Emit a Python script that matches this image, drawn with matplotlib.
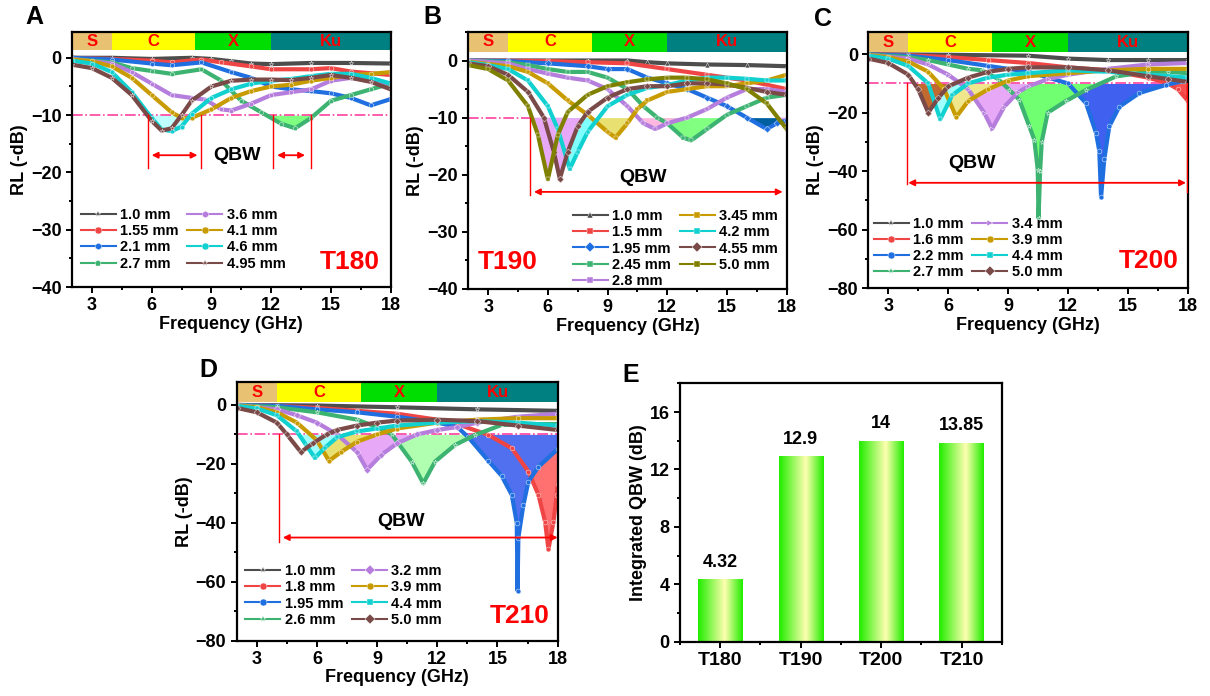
import numpy as np
import matplotlib
matplotlib.use("Agg")
import matplotlib.pyplot as plt
from matplotlib.colors import LinearSegmentedColormap
from matplotlib.ticker import MultipleLocator

plt.rcParams['font.family'] = ['Liberation Sans', 'DejaVu Sans']
plt.rcParams['font.weight'] = 'bold'
plt.rcParams['axes.labelweight'] = 'bold'

# ---------------- data ----------------
BANDS = ['S', 'C', 'X', 'Ku']
BAND_EDGES = [2, 4, 8.2, 12, 18]
BAND_COLORS = ['#e8c272', '#ffff00', '#00dd00', '#008080']

# panel A, T180
A_LABELS = ['1.0 mm', '1.55 mm', '2.1 mm', '2.7 mm', '3.6 mm', '4.1 mm', '4.6 mm', '4.95 mm']
A_FREQ = [
    [2, 4, 6, 8, 9, 10, 11, 12, 14, 16, 18],
    [2, 4, 6, 7, 8.5, 9.5, 11, 12, 14, 15, 16, 18],
    [2, 4, 6, 7, 8.5, 10, 11, 12, 13, 14, 15, 16, 17, 18],
    [2, 4, 5, 6, 7, 8.5, 9.5, 10.5, 11.5, 12.5, 13.2, 14, 15, 16, 17, 18],
    [2, 4, 5, 6, 7, 8, 8.7, 9.5, 10, 11, 12, 13, 14, 15, 16, 17, 18],
    [2, 3, 4, 5, 6, 7, 7.5, 8, 9, 10, 11, 12, 13, 14, 15, 16, 17, 18],
    [2, 3, 4, 5, 6, 6.5, 7, 7.5, 8, 9, 10, 11, 12, 13, 14, 15, 16, 17, 18],
    [2, 3, 4, 5, 6, 6.5, 7, 7.5, 8, 9, 10, 11, 12, 13, 14, 15, 16, 17, 18],
]
A_RL = [
    [0, 0, -0.2, 0, -0.2, -0.6, -1.0, -1.1, -0.9, -0.9, -1.0],
    [0, -0.2, -0.5, -0.8, -0.3, -0.8, -1.5, -2.0, -2.0, -1.8, -2.4, -3.0],
    [0, -0.3, -1.0, -1.3, -0.8, -2.5, -3.5, -5.0, -5.5, -5.8, -6.2, -7.0, -8.3, -7.2],
    [-0.2, -0.8, -1.8, -2.3, -2.8, -2.0, -4.0, -7.5, -9.5, -11.5, -12.3, -10.5, -7.5, -6.5, -5.5, -4.5],
    [-0.2, -1, -2.5, -4.5, -6.5, -7, -7.3, -9, -9.2, -8, -6.5, -6, -5.5, -4, -3.5, -4, -4.5],
    [-0.3, -0.6, -1.5, -3.5, -6.5, -9.5, -10.5, -10.5, -9, -7, -5.8, -5, -4.7, -4, -3.5, -3, -2.8, -2.5],
    [-0.5, -1, -2.5, -6, -10.5, -12.5, -12.8, -12, -9.8, -7, -5.5, -4.5, -4, -3.7, -3.2, -2.8, -2.8, -3.5, -4.5],
    [-1.2, -1.8, -3.5, -6.5, -11, -12.7, -12.3, -10, -7.5, -5, -4, -3.8, -3.8, -3.9, -3.5, -3, -3.5, -4.2, -5.5],
]

# panel B, T190
B_LABELS = ['1.0 mm', '1.5 mm', '1.95 mm', '2.45 mm', '2.8 mm', '3.45 mm', '4.2 mm', '4.55 mm', '5.0 mm']
B_FREQ = [
    [2, 8, 10, 11, 12, 14, 16, 18],
    [2, 6, 8, 10, 12, 14, 16, 18],
    [2, 4, 6, 8, 9, 10, 11, 12, 13, 14, 15, 16, 17, 17.5, 18],
    [2, 4, 5, 6, 7, 8, 9, 10, 10.8, 11.5, 12, 12.8, 13.2, 14, 15, 16, 17, 18],
    [2, 4, 5, 6, 7, 8, 9, 10, 10.8, 11.4, 12, 13, 14, 15, 16, 17, 18],
    [2, 4, 5, 6, 7, 8, 9, 9.4, 10, 10.5, 11, 12, 13, 14, 15, 16, 17, 18],
    [2, 3, 4, 5, 6, 6.5, 7.1, 7.5, 8, 9, 10, 11, 12, 13, 14, 15, 16, 17, 18],
    [2, 3, 4, 5, 5.8, 6.3, 6.6, 7, 7.5, 8, 9, 10, 11, 12, 13, 14, 15, 16, 17, 18],
    [2, 3, 4, 5, 5.5, 6, 6.5, 7, 8, 9, 10, 11, 12, 13, 14, 15, 16, 17, 18],
]
B_RL = [
    [0, 0, 0, -0.3, -0.5, -0.7, -0.8, -1],
    [0, -0.1, -0.3, -0.5, -1.5, -2.5, -3.5, -5],
    [0, -0.1, -0.5, -1, -1.5, -1.5, -3, -4, -5, -6.5, -8, -10, -12, -11, -10.5],
    [0, -0.3, -0.8, -1.5, -2, -2, -3, -5, -8, -10, -11, -13.5, -14, -12, -9.5, -8, -6.5, -6],
    [0, -0.5, -1.5, -2.3, -3, -3.5, -5, -8, -11, -12, -11, -10, -8.5, -6.5, -5, -5, -5.5],
    [-0.2, -1, -2, -4, -7, -9.5, -12.5, -13.5, -11, -8.5, -7, -5.5, -5, -4.5, -4.5, -4, -3.5, -2.5],
    [-0.3, -0.8, -1.5, -3.5, -8, -12, -19, -16, -12.5, -8, -6, -4.8, -4.3, -3.5, -3, -3, -3.2, -3.5, -3.5],
    [-0.5, -1, -2.5, -5.5, -10, -16, -20.7, -16, -11.5, -9, -6.5, -5, -4.5, -4.5, -4, -4, -4.2, -4.8, -5.5, -6],
    [-0.8, -1.5, -3.5, -8, -13, -20.8, -13, -9, -6, -4.5, -3.8, -3.3, -3, -3, -3.3, -4, -5, -7.5, -12],
]

# panel C, T200
C_LABELS = ['1.0 mm', '1.6 mm', '2.2 mm', '2.7 mm', '3.4 mm', '3.9 mm', '4.4 mm', '5.0 mm']
C_FREQ = [
    [2, 6, 10, 12, 14, 16, 18],
    [2, 4, 6, 8, 10, 12, 14, 16, 17, 17.5, 18],
    [2, 4, 6, 8, 10, 11, 12, 12.9, 13.4, 13.56, 13.65, 13.81, 14.06, 14.56, 15.56, 16.9, 17.7, 18],
    [2, 4, 5, 6, 7, 7.7, 8.5, 9.06, 9.56, 10.06, 10.31, 10.48, 10.52, 10.6, 10.68, 10.98,
     11.9, 12.9, 14.4, 16, 17, 18],
    [2, 4, 5, 6, 7, 7.8, 8.2, 8.8, 9.5, 10, 11, 12, 14, 16, 18],
    [2, 3, 4, 5, 5.8, 6.4, 7, 8, 9, 10, 12, 14, 16, 18],
    [2, 3, 4, 5, 5.6, 6.2, 7, 8, 9, 10, 12, 14, 16, 18],
    [2, 3, 4, 4.5, 5, 5.5, 6, 7, 8, 9, 10, 12, 14, 16, 17, 18],
]
C_RL = [
    [0, -0.2, -0.5, -1.5, -2, -2, -2],
    [0, -0.3, -1, -2, -3, -4.5, -5.5, -8, -10, -12, -16],
    [0, -0.5, -2, -4, -6, -8, -10, -16.8, -27, -33, -49, -36, -24.7, -18, -13.3, -10.5, -9.3, -9],
    [-0.1, -1, -2, -3.5, -5, -5.5, -8.5, -12.2, -15.6, -24.7, -29.3, -39.5, -56, -40, -30, -20,
     -16, -12.2, -7.6, -6, -6, -6.5],
    [-0.2, -1.5, -3.5, -7, -12, -20, -25.5, -18, -13, -11, -8.5, -7, -5, -3.5, -3],
    [-0.3, -1, -2.5, -6, -12, -21.5, -16, -12, -9, -7.5, -6.5, -5.5, -5, -5],
    [-0.5, -1.5, -4, -10, -22.3, -14, -10, -8, -7, -6.5, -5.5, -6, -7, -8],
    [-1.5, -3, -7, -12, -20, -15, -11, -8, -6, -5, -4.5, -4.5, -5.5, -7.5, -8.5, -9.5],
]

# panel D, T210
D_LABELS = ['1.0 mm', '1.8 mm', '1.95 mm', '2.6 mm', '3.2 mm', '3.9 mm', '4.4 mm', '5.0 mm']
D_FREQ = [
    [2, 6, 10, 14, 18],
    [2, 4, 6, 8, 10, 12, 13, 14.55, 15.71, 16.54, 17.04, 17.37, 17.54, 17.79, 17.95, 18],
    [2, 4, 6, 8, 10, 12, 13, 13.55, 14.55, 15.2, 15.71, 15.96, 16.0, 16.04, 16.29, 16.54, 17.04, 18],
    [2, 4, 6, 8, 9, 9.73, 10.72, 11.3, 11.89, 12.88, 13.88, 15.2, 16.5, 18],
    [2, 4, 5, 6, 7, 8, 8.5, 9.2, 10, 11, 12, 13, 14, 16, 18],
    [2, 3, 4, 5, 6, 6.6, 7.2, 8, 9, 10, 12, 14, 16, 18],
    [2, 3, 4, 5, 5.5, 5.9, 6.4, 7, 8, 9, 10, 12, 14, 16, 18],
    [2, 3, 4, 4.5, 5.2, 5.8, 6.5, 7, 8, 9, 10, 12, 14, 16, 18],
]
D_RL = [
    [0, -0.2, -0.8, -1.5, -2],
    [0, -0.3, -1, -2, -3, -5, -6.5, -10.2, -14.7, -22.6, -30.5, -39.6, -49, -39.6, -30.5, -27],
    [0, -0.3, -1.5, -2.5, -4, -6, -7.5, -11, -19, -24, -30.5, -40, -63, -45, -34, -26, -21, -15],
    [0, -0.8, -2.5, -5, -7.5, -10, -19.2, -26.6, -19.2, -13.6, -10.2, -6.8, -6.5, -6.5],
    [0, -1.5, -3.5, -6, -10, -16, -22, -17, -13, -10, -8.5, -7.5, -6, -4, -3],
    [-0.2, -0.8, -2.5, -6, -12, -19, -16, -12.5, -10, -8, -6, -5, -4.5, -4.5],
    [-0.3, -1.2, -3.5, -9, -14, -18, -14.5, -11, -9, -8, -7, -6, -5.5, -6, -7],
    [-1, -2.5, -6, -10, -16, -13, -10, -8.5, -7, -6, -5.3, -5, -5.5, -7, -8.5],
]

# panel E
E_SAMPLES = ['T180', 'T190', 'T200', 'T210']
E_QBW = [4.32, 12.9, 14, 13.85]

# ---------------- styles ----------------
GRAY, RED, BLUE, GREEN = '#4d4d4d', '#f04545', '#1f6fe0', '#3cb371'
PURPLE, GOLD, CYAN, BROWN, OLIVE = '#b57edc', '#c89b00', '#10d0d0', '#7a4a48', '#808000'
PINK = '#ff40a0'

A_COLORS = [GRAY, RED, BLUE, GREEN, PURPLE, GOLD, CYAN, BROWN]
A_MARK = ['*', 'o', 'h', 'p', 'h', 'o', 'o', '*']
A_FILL = [None, None, None, '#80ff80', None, None, '#c0ffff', '#c0ffff']

B_COLORS = [GRAY, RED, BLUE, GREEN, PURPLE, GOLD, CYAN, BROWN, OLIVE]
B_MARK = ['^', 's', 'D', 's', 's', 's', 's', 'D', 's']
B_FILL = [None, None, '#005f9e', '#80ff80', '#ffb8e0', '#e8e070', '#80ffff', '#e8a8f8', '#e8a8f8']

C_COLORS = [GRAY, RED, BLUE, GREEN, PURPLE, GOLD, CYAN, BROWN]
C_MARK = ['*', 'o', 'o', '*', '>', 'o', 's', 'D']
C_FILL = [None, '#ff5050', '#4060f0', '#70ff70', '#e8a8f8', '#f0e68c', '#a0ffff', '#c06a30']

D_COLORS = [GRAY, RED, BLUE, GREEN, PURPLE, GOLD, CYAN, BROWN]
D_MARK = ['*', 'o', 'o', '*', 'D', 'o', 's', 'D']
D_FILL = [None, '#ff7070', '#5070f0', '#b0ffb0', '#e8a8f8', '#e8e070', '#a0ffff', None]


def rl_panel(ax, freqs, rls, labels, colors, marks, fills, ylim, ystep, band_lo):
    ax.set_xlim(2, 18)
    ax.set_ylim(*ylim)
    # frequency bands on top
    for i, b in enumerate(BANDS):
        x0, x1 = BAND_EDGES[i], BAND_EDGES[i + 1]
        ax.fill_between([x0, x1], band_lo, ylim[1], color=BAND_COLORS[i], lw=0, zorder=0.5)
        ax.text((x0 + x1) / 2, (band_lo + ylim[1]) / 2, b, color='red', ha='center',
                va='center', fontsize=12, fontweight='bold', zorder=0.6)
    for f, r, fc in zip(freqs, rls, fills):
        if fc is not None:
            r = np.array(r, float)
            ax.fill_between(f, r, -10, where=r < -10, interpolate=True, color=fc, lw=0, zorder=1)
    for f, r, lab, c, m in zip(freqs, rls, labels, colors, marks):
        ax.plot(f, r, color=c, lw=3, marker=m, ms=3.5, mfc=c, mec='white', mew=0.3,
                label=lab, zorder=2)
    ax.set_xticks([3, 6, 9, 12, 15, 18])
    ax.xaxis.set_minor_locator(MultipleLocator(1.5))
    ax.yaxis.set_major_locator(MultipleLocator(ystep))
    ax.yaxis.set_minor_locator(MultipleLocator(ystep / 2))
    ax.set_yticks(np.arange(ylim[0], 0.1, ystep))
    ax.set_xlabel('Frequency (GHz)', fontsize=13, labelpad=1)
    ax.set_ylabel('RL (-dB)', fontsize=13, labelpad=2)
    style_axes(ax)


def style_axes(ax):
    for s in ax.spines.values():
        s.set_linewidth(1.6)
    ax.tick_params(which='both', direction='out', labelsize=13, width=1.4)
    ax.tick_params(which='major', length=4)
    ax.tick_params(which='minor', length=2.5)
    for t in ax.get_xticklabels() + ax.get_yticklabels():
        t.set_fontweight('bold')


def legend(ax, ncol, loc, anchor):
    leg = ax.legend(ncol=ncol, loc=loc, bbox_to_anchor=anchor, frameon=False, fontsize=10.5,
                    handlelength=2.4, handletextpad=0.3, columnspacing=0.6, labelspacing=0.15,
                    borderaxespad=0.2, numpoints=1)
    for h in leg.get_lines():
        h.set_linewidth(1.5)
        h.set_markersize(5)
    for t in leg.get_texts():
        t.set_fontweight('bold')


def qbw_arrow(ax, x0, x1, y):
    ax.annotate('', xy=(x0, y), xytext=(x1, y),
                arrowprops=dict(arrowstyle='<|-|>', color='red', lw=1.3, mutation_scale=9,
                                shrinkA=0, shrinkB=0), zorder=3)


fig = plt.figure(figsize=(12.1, 6.96), dpi=100)
axA = fig.add_axes([0.0595, 0.5876, 0.2634, 0.3664])
axB = fig.add_axes([0.387, 0.5848, 0.2631, 0.3693])
axC = fig.add_axes([0.7176, 0.5862, 0.2642, 0.3678])
axD = fig.add_axes([0.1956, 0.0795, 0.2653, 0.3713])
axE = fig.add_axes([0.562, 0.078, 0.2659, 0.3713])

# ---- A ----
rl_panel(axA, A_FREQ, A_RL, A_LABELS, A_COLORS, A_MARK, A_FILL, (-40, 4.5), 10, 1.3)
axA.axhline(-10, color=PINK, lw=1.2, ls='-.', zorder=1.5)
for xv in [5.8, 8.5, 12.1, 14.0]:
    axA.plot([xv, xv], [-10, -19.2], color='red', lw=1, zorder=3)
qbw_arrow(axA, 6.0, 8.3, -17)
qbw_arrow(axA, 12.3, 13.7, -17)
axA.text(10.3, -17, 'QBW', fontsize=14, fontweight='bold', ha='center', va='center')
axA.text(0.965, 0.05, 'T180', transform=axA.transAxes, color='red', fontsize=19,
         fontweight='bold', ha='right', va='bottom')
legend(axA, 2, 'lower left', (0.0, 0.03))

# ---- B ----
rl_panel(axB, B_FREQ, B_RL, B_LABELS, B_COLORS, B_MARK, B_FILL, (-40, 5), 10, 1.5)
axB.plot([2, 5.1], [-10, -10], color=PINK, lw=1.2, ls='-.', zorder=1.5)
axB.plot([5.1, 5.1], [-10, -23.5], color='red', lw=1, zorder=3)
qbw_arrow(axB, 5.3, 17.8, -23)
axB.text(10.8, -20.5, 'QBW', fontsize=14, fontweight='bold', ha='center', va='center')
axB.text(0.03, 0.06, 'T190', transform=axB.transAxes, color='red', fontsize=19,
         fontweight='bold', ha='left', va='bottom')
legend(axB, 2, 'lower right', (1.0, -0.03))

# ---- C ----
rl_panel(axC, C_FREQ, C_RL, C_LABELS, C_COLORS, C_MARK, C_FILL, (-80, 7.6), 20, 0.7)
axC.axhline(-10, color=PINK, lw=1.2, ls='-.', zorder=1.5)
axC.plot([3.95, 3.95], [-10, -44.5], color='red', lw=1, zorder=3)
axC.plot([17.95, 17.95], [-10, -47], color='red', lw=1, zorder=3)
qbw_arrow(axC, 4.0, 17.9, -44)
axC.text(7.2, -37.5, 'QBW', fontsize=14, fontweight='bold', ha='center', va='center')
axC.text(0.97, 0.06, 'T200', transform=axC.transAxes, color='red', fontsize=19,
         fontweight='bold', ha='right', va='bottom')
legend(axC, 2, 'lower left', (-0.01, 0.0))

# ---- D ----
rl_panel(axD, D_FREQ, D_RL, D_LABELS, D_COLORS, D_MARK, D_FILL, (-80, 7.7), 20, 0.9)
axD.axhline(-10, color=PINK, lw=1.2, ls='-.', zorder=1.5)
axD.plot([4.1, 4.1], [-10, -46.4], color='red', lw=1, zorder=3)
qbw_arrow(axD, 4.3, 18.0, -45)
axD.text(10.2, -39.5, 'QBW', fontsize=14, fontweight='bold', ha='center', va='center')
axD.text(0.975, 0.05, 'T210', transform=axD.transAxes, color='red', fontsize=19,
         fontweight='bold', ha='right', va='bottom')
legend(axD, 2, 'lower left', (0.0, 0.02))

# ---- E ----
grad = LinearSegmentedColormap.from_list('g', [(0, '#22ee00'), (0.6, '#ffffb0'), (1, '#22ee00')])
xpos = np.arange(len(E_SAMPLES))
bars = axE.bar(xpos, E_QBW, width=0.55, color='none', lw=0)
for b, v in zip(bars, E_QBW):
    x0, w = b.get_x(), b.get_width()
    axE.imshow(np.linspace(0, 1, 64).reshape(1, -1), cmap=grad, aspect='auto',
               extent=[x0, x0 + w, 0, v], zorder=2)
    axE.text(x0 + w / 2, v + 0.6, f'{v:g}', ha='center', va='bottom', fontsize=13,
             fontweight='bold')
axE.set_xlim(-0.5, 3.5)
axE.set_ylim(0, 18)
axE.set_xticks(xpos)
axE.set_xticklabels(E_SAMPLES)
axE.xaxis.set_minor_locator(MultipleLocator(0.5))
axE.set_yticks([0, 4, 8, 12, 16])
axE.yaxis.set_minor_locator(MultipleLocator(2))
axE.set_ylabel('Integrated QBW (dB)', fontsize=13, labelpad=2)
style_axes(axE)
axE.tick_params(axis='x', labelsize=14)
for t in axE.get_xticklabels():
    t.set_fontweight('bold')

# panel letters
for lab, x, y in [('A', 0.028, 0.975), ('B', 0.357, 0.975), ('C', 0.68, 0.972),
                  ('D', 0.172, 0.468), ('E', 0.521, 0.461)]:
    fig.text(x, y, lab, fontsize=18, fontweight='bold', ha='center', va='center')

fig.savefig('out.png', dpi=100)
